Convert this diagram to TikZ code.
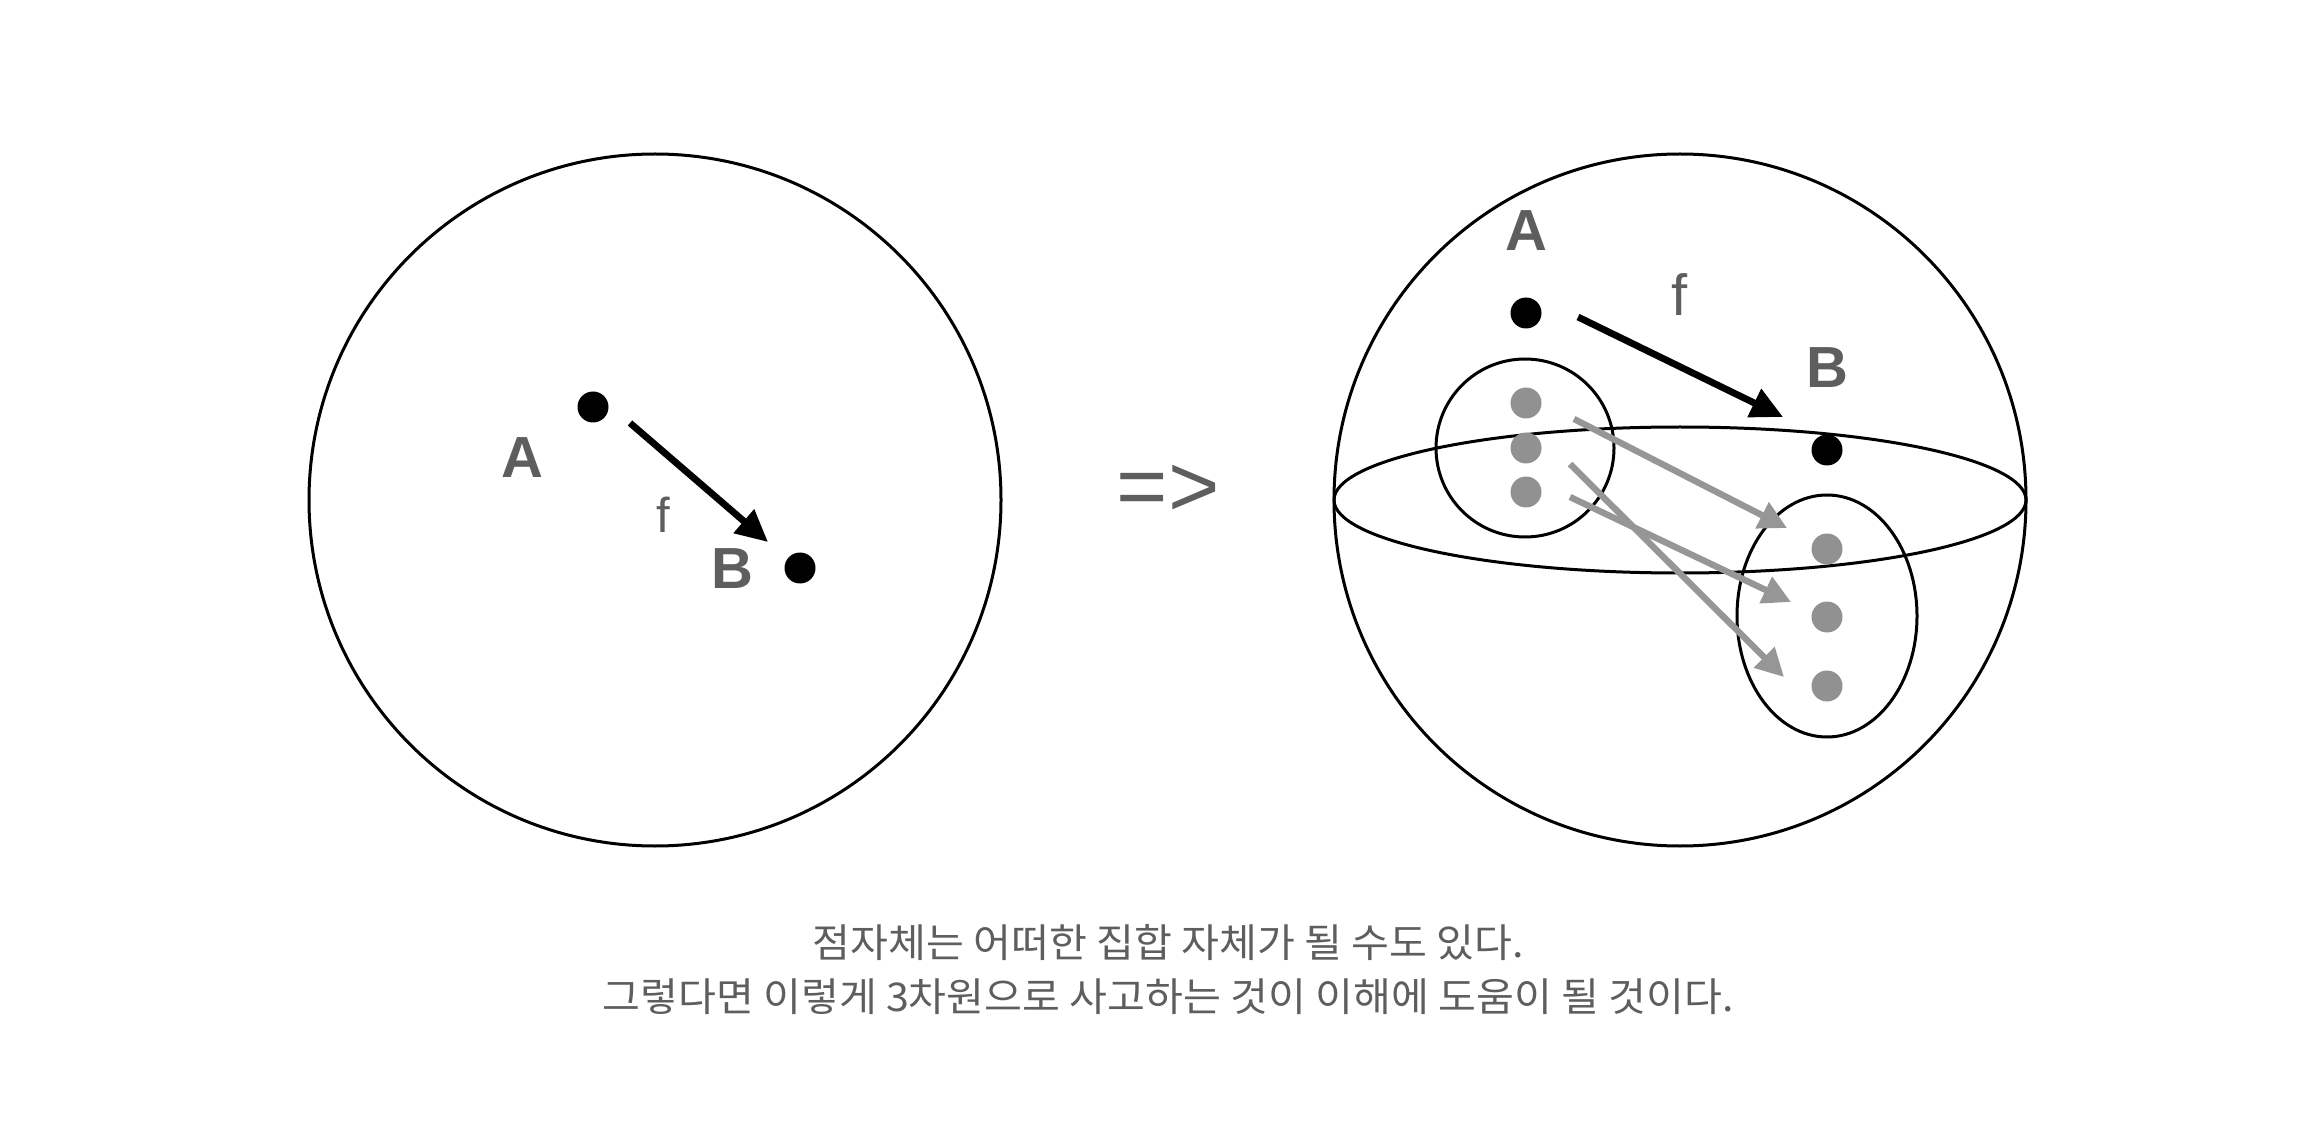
\documentclass[tikz,border=0pt]{standalone}
\usepackage{fontspec}
\setmainfont{Liberation Sans}
\newfontfamily\krfont[FakeStretch=1.04]{Noto Sans CJK KR}
\usetikzlibrary{arrows.meta}
\definecolor{lblgray}{RGB}{94,94,94}
\definecolor{dotgray}{RGB}{145,145,145}
\definecolor{arrgray}{RGB}{150,150,150}
\begin{document}
\begin{tikzpicture}[x=0.5pt,y=-0.5pt,
  ring/.style={draw=black,line width=1.5pt},
  bdot/.style={circle,fill=black,minimum size=15.5pt,inner sep=0pt},
  gdot/.style={circle,fill=dotgray,minimum size=15.5pt,inner sep=0pt},
  lbl/.style={text=lblgray,font=\bfseries\fontsize{29}{29}\selectfont,inner sep=0pt},
  flbl/.style={text=lblgray,font=\fontsize{#1}{#1}\selectfont,inner sep=0pt},
  barrow/.style={draw=black,line width=3.4pt,-{Triangle[length=16pt,width=15pt]}},
  garrow/.style={draw=arrgray,line width=3.2pt,-{Triangle[length=14pt,width=14pt]}},
  kr/.style={text=lblgray,font=\krfont\fontsize{19.8}{19.8}\selectfont,inner sep=0pt}
]
\useasboundingbox (0,0) rectangle (2298,1128);
% left sphere
\draw[ring] (655,500) circle[radius=346];
\node[bdot] (lA) at (593,407) {};
\node[bdot] (lB) at (800,568) {};
\node[lbl] (lAl) at (522,458) {A};
\node[lbl] (lBl) at (732,569) {B};
\node[flbl=24.5] (lf) at (663,515) {f};
\coordinate (la1) at (630,423);
\coordinate (la2) at (768,542);
\draw[barrow] (la1) -- (la2);
% implication
\node[text=lblgray,font=\fontsize{44}{44}\selectfont,inner sep=0pt] (imp) at (1168,491) {=>};
% right sphere
\draw[ring] (1680,500) circle[radius=346];
\draw[ring] (1680,500) ellipse[x radius=346,y radius=73];
\draw[ring] (1525,448) circle[radius=89];
\draw[ring] (1827,616) ellipse[x radius=90,y radius=121];
\node[bdot] (rA) at (1526,313) {};
\node[bdot] (rB) at (1827,450) {};
\node[lbl] (rAl) at (1526,231) {A};
\node[lbl] (rBl) at (1827,368) {B};
\node[flbl=29] (rf) at (1680,295) {f};
\node[gdot] (a1) at (1526,403) {};
\node[gdot] (a2) at (1526,448) {};
\node[gdot] (a3) at (1526,492) {};
\node[gdot] (b1) at (1827,549) {};
\node[gdot] (b2) at (1827,617) {};
\node[gdot] (b3) at (1827,686) {};
\coordinate (ra1) at (1578,317);
\coordinate (ra2) at (1783,417);
\draw[barrow] (ra1) -- (ra2);
\coordinate (g1s) at (1574,419);
\coordinate (g1e) at (1787,528);
\coordinate (g2s) at (1570,497);
\coordinate (g2e) at (1791,602);
\coordinate (g3s) at (1570,464);
\coordinate (g3e) at (1784,677);
\draw[garrow] (g1s) -- (g1e);
\draw[garrow] (g2s) -- (g2e);
\draw[garrow] (g3s) -- (g3e);
% caption
\node[kr] (t1) at (1168,943) {점자체는 어떠한 집합 자체가 될 수도 있다.};
\node[kr] (t2) at (1168,997) {그렇다면 이렇게 3차원으로 사고하는 것이 이해에 도움이 될 것이다.};
\end{tikzpicture}
\end{document}
